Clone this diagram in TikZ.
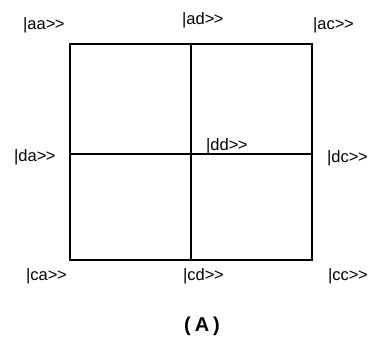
\documentclass[tikz,border=0pt]{standalone}
\usepackage{fontspec}
\setmainfont{Liberation Sans}[Ligatures=ResetAll]
\newcommand{\ket}[1]{|#1>\kern-0.5pt>}
\begin{document}
\begin{tikzpicture}[x=1pt,y=-1pt,
  lbl/.style={anchor=west,inner sep=0pt,font=\fontsize{16.5}{16.5}\selectfont},
  grid/.style={line width=2pt,line cap=rect}]
\useasboundingbox (0,0) rectangle (371,337);
% corners and midpoints of the square
\coordinate (TL) at (70,44);
\coordinate (TM) at (191,44);
\coordinate (TR) at (312,44);
\coordinate (ML) at (70,154);
\coordinate (MR) at (312,154);
\coordinate (BL) at (70,260);
\coordinate (BM) at (191,260);
\coordinate (BR) at (312,260);
\draw[grid] (TL) rectangle (BR);
\draw[grid] (TM) -- (BM);
\draw[grid] (ML) -- (MR);
% labels
\node[lbl] (aa) at (23,25) {\ket{aa}};
\node[lbl] (ad) at (182,20) {\ket{ad}};
\node[lbl] (ac) at (313,25) {\ket{ac}};
\node[lbl] (da) at (14,157) {\ket{da}};
\node[lbl] (dd) at (206,146) {\ket{dd}};
\node[lbl] (dc) at (327,158) {\ket{dc}};
\node[lbl] (ca) at (26,276) {\ket{ca}};
\node[lbl] (cd) at (183,276) {\ket{cd}};
\node[lbl] (cc) at (328,276) {\ket{cc}};
\node[inner sep=0pt,font=\fontsize{20}{20}\selectfont\bfseries] (A) at (202,326) {(\kern4pt A\kern4pt)};
\end{tikzpicture}
\end{document}
